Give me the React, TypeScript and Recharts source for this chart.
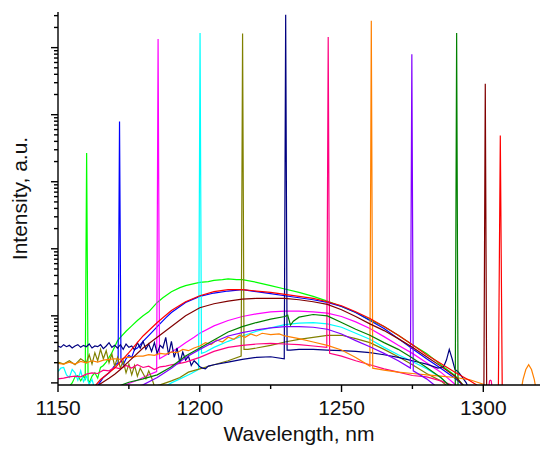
import React from 'react'
import { LineChart, Line, XAxis, YAxis } from 'recharts'

// each spectrum: [wavelength nm, log10 intensity a.u.]
const lime: [number, number][] = [[1150,-0.2],[1153,-0.1],[1155,0.0],[1156,0.09],[1157,0.11],[1158,0.03],[1159,0.1],[1159.6,0.06],[1160.1,3.43],[1160.6,0.05],[1161,0.0],[1162,0.1],[1163,0.15],[1164,0.07],[1165,0.23],[1166,0.26],[1167,0.31],[1168,0.38],[1169,0.45],[1170,0.54],[1171,0.63],[1172,0.68],[1174,0.77],[1176,0.85],[1178,0.93],[1180,1.0],[1182,1.06],[1185,1.2],[1187,1.27],[1190,1.36],[1193,1.42],[1195,1.45],[1198,1.48],[1200,1.5],[1203,1.51],[1205,1.53],[1208,1.54],[1210,1.55],[1213,1.54],[1215,1.54],[1220,1.5],[1225,1.45],[1230,1.4],[1235,1.35],[1240,1.29],[1245,1.22],[1250,1.14],[1255,1.05],[1260,0.94],[1265,0.84],[1270,0.71],[1275,0.57],[1280,0.44],[1285,0.27],[1290,0.11],[1293,-0.04],[1296,-0.2]]
const blue: [number, number][] = [[1160,-0.2],[1164,-0.04],[1166,0.08],[1168,0.15],[1169,0.2],[1170,0.26],[1171.2,0.3],[1171.7,3.9],[1172.2,0.34],[1173,0.27],[1174,0.36],[1175,0.41],[1176,0.38],[1177,0.5],[1178,0.52],[1180,0.62],[1183,0.75],[1185,0.84],[1188,0.97],[1190,1.05],[1193,1.14],[1195,1.2],[1200,1.29],[1205,1.34],[1210,1.37],[1215,1.39],[1220,1.36],[1225,1.33],[1230,1.3],[1235,1.27],[1240,1.24],[1245,1.2],[1250,1.14],[1255,1.05],[1260,0.93],[1265,0.81],[1270,0.66],[1275,0.51],[1280,0.36],[1285,0.22],[1290,0.07],[1293,-0.04],[1296,-0.2]]
const magenta: [number, number][] = [[1165,-0.2],[1170,-0.1],[1175,-0.01],[1178,0.04],[1180,0.08],[1182,0.12],[1184.8,0.17],[1185.3,5.13],[1185.8,0.36],[1187,0.39],[1190,0.46],[1193,0.54],[1195,0.6],[1198,0.68],[1200,0.74],[1205,0.85],[1210,0.93],[1215,0.99],[1220,1.03],[1225,1.06],[1230,1.07],[1235,1.07],[1240,1.06],[1245,1.04],[1250,0.99],[1255,0.91],[1260,0.81],[1265,0.69],[1270,0.56],[1275,0.44],[1280,0.3],[1285,0.16],[1290,-0.02],[1293,-0.2]]
const cyan: [number, number][] = [[1150,0.17],[1151,0.22],[1152,0.23],[1153,0.12],[1154,0.08],[1155,0.2],[1156,0.15],[1157,0.04],[1158,0.18],[1159,0.02],[1160,0.1],[1161,-0.02],[1162,0.05],[1163,-0.1],[1165,-0.2],[1180,-0.2],[1185,-0.12],[1188,-0.05],[1190,0.0],[1193,0.06],[1195,0.1],[1197,0.14],[1199.6,0.2],[1200.1,5.22],[1200.6,0.44],[1202,0.46],[1205,0.53],[1210,0.62],[1215,0.7],[1220,0.77],[1225,0.82],[1230,0.87],[1235,0.89],[1240,0.9],[1245,0.88],[1250,0.83],[1255,0.74],[1260,0.65],[1265,0.53],[1270,0.42],[1275,0.32],[1280,0.21],[1285,0.08],[1288,-0.04],[1291,-0.2]]
const olive: [number, number][] = [[1150,0.31],[1152,0.28],[1154,0.33],[1156,0.27],[1158,0.36],[1160,0.3],[1161,0.42],[1162,0.28],[1163,0.45],[1164,0.33],[1165,0.5],[1166,0.36],[1167,0.48],[1168,0.3],[1169,0.43],[1170,0.25],[1171,0.38],[1172,0.22],[1173,0.33],[1174,0.15],[1175,0.28],[1176,0.12],[1177,0.26],[1178,0.1],[1179,0.22],[1180,0.14],[1181,0.06],[1182,0.18],[1183,0.08],[1184,-0.05],[1186,-0.03],[1188,0.0],[1190,0.03],[1193,0.08],[1196,0.16],[1200,0.21],[1205,0.27],[1210,0.33],[1214.6,0.4],[1215.1,5.21],[1215.6,0.5],[1217,0.5],[1220,0.52],[1225,0.56],[1230,0.61],[1235,0.65],[1240,0.68],[1245,0.71],[1250,0.71],[1255,0.66],[1260,0.6],[1265,0.5],[1270,0.39],[1275,0.27],[1280,0.14],[1285,0.03],[1288,-0.07],[1291,-0.2]]
const navy: [number, number][] = [[1150,0.55],[1151,0.53],[1152,0.57],[1153,0.54],[1154,0.56],[1155,0.52],[1156,0.55],[1157,0.57],[1158,0.53],[1159,0.56],[1160,0.54],[1161,0.58],[1162,0.52],[1163,0.55],[1164,0.54],[1165,0.57],[1166,0.51],[1167,0.55],[1168,0.6],[1169,0.53],[1170,0.56],[1171,0.52],[1172,0.57],[1173,0.5],[1174,0.58],[1175,0.53],[1176,0.55],[1177,0.49],[1178,0.6],[1179,0.52],[1180,0.62],[1181,0.5],[1182,0.58],[1183,0.47],[1184,0.6],[1185,0.44],[1186,0.56],[1187,0.52],[1188,0.68],[1189,0.42],[1190,0.62],[1191,0.38],[1192,0.52],[1193,0.3],[1194,0.46],[1195,0.34],[1196,0.4],[1197,0.26],[1198,0.33],[1199,0.29],[1200,0.24],[1201,0.22],[1202,0.21],[1203,0.25],[1205,0.27],[1210,0.31],[1215,0.35],[1220,0.38],[1225,0.39],[1229.8,0.36],[1230.3,5.49],[1230.8,0.49],[1232,0.49],[1235,0.5],[1240,0.5],[1245,0.49],[1250,0.48],[1255,0.47],[1260,0.45],[1265,0.42],[1270,0.38],[1275,0.33],[1280,0.28],[1284,0.22],[1286,0.24],[1287,0.34],[1288,0.5],[1289,0.36],[1290,0.2],[1291,0.17],[1292,0.12],[1294,0.0],[1296,-0.2]]
const pink: [number, number][] = [[1150,0.06],[1152,0.07],[1154,0.09],[1156,0.1],[1158,0.09],[1160,0.13],[1162,0.15],[1164,0.14],[1166,0.19],[1168,0.18],[1170,0.23],[1172,0.21],[1174,0.26],[1176,0.22],[1178,0.27],[1180,0.23],[1182,0.25],[1184,0.2],[1186,0.24],[1188,0.25],[1190,0.27],[1193,0.29],[1195,0.31],[1200,0.38],[1205,0.47],[1210,0.53],[1215,0.56],[1220,0.58],[1225,0.59],[1230,0.58],[1235,0.57],[1240,0.55],[1244.8,0.53],[1245.3,5.16],[1245.8,0.44],[1250,0.4],[1255,0.33],[1260,0.27],[1265,0.21],[1270,0.16],[1275,0.11],[1280,0.09],[1285,0.03],[1290,-0.05],[1293,-0.2],[1301.5,-0.2],[1302.2,0.03],[1302.5,0.04],[1302.8,0.03],[1303.5,-0.2]]
const orange: [number, number][] = [[1150,0.29],[1152,0.28],[1154,0.31],[1156,0.28],[1158,0.32],[1160,0.3],[1162,0.33],[1164,0.31],[1166,0.34],[1168,0.35],[1170,0.36],[1172,0.35],[1174,0.38],[1176,0.38],[1178,0.4],[1180,0.4],[1182,0.42],[1184,0.41],[1186,0.44],[1188,0.43],[1190,0.46],[1192,0.45],[1194,0.5],[1196,0.48],[1198,0.52],[1200,0.55],[1202,0.6],[1204,0.57],[1206,0.64],[1208,0.61],[1210,0.68],[1212,0.65],[1214,0.71],[1216,0.68],[1218,0.73],[1220,0.7],[1222,0.74],[1225,0.72],[1228,0.73],[1230,0.7],[1235,0.66],[1240,0.61],[1245,0.56],[1250,0.49],[1255,0.38],[1260,0.25],[1260.5,5.4],[1261,0.22],[1265,0.19],[1270,0.16],[1275,0.14],[1280,0.12],[1285,0.1],[1290,0.08],[1295,0.05],[1300,-0.02],[1303,-0.2],[1313,-0.2],[1314,0.05],[1315,0.2],[1316,0.27],[1317,0.2],[1318,0.05],[1319,-0.2],[1320,-0.2]]
const violet: [number, number][] = [[1172,-0.2],[1175,-0.1],[1180,-0.03],[1185,0.08],[1190,0.22],[1195,0.38],[1200,0.5],[1205,0.61],[1210,0.7],[1215,0.75],[1220,0.79],[1225,0.82],[1230,0.84],[1235,0.84],[1240,0.83],[1245,0.8],[1250,0.73],[1255,0.63],[1260,0.54],[1265,0.44],[1270,0.33],[1274.3,0.22],[1274.8,4.9],[1275.3,0.18],[1280,0.06],[1283,-0.04],[1286,-0.2]]
const green: [number, number][] = [[1165,-0.2],[1170,-0.07],[1175,0.01],[1180,0.06],[1185,0.12],[1190,0.24],[1195,0.4],[1200,0.52],[1205,0.64],[1210,0.76],[1215,0.84],[1220,0.9],[1225,0.95],[1230,0.99],[1231,1.01],[1232,0.86],[1233,0.92],[1235,0.98],[1240,1.02],[1245,1.0],[1250,0.9],[1255,0.8],[1260,0.71],[1265,0.6],[1270,0.5],[1275,0.37],[1280,0.23],[1285,0.08],[1288,-0.04],[1290.1,-0.2],[1290.6,5.22],[1291.1,-0.2],[1295,-0.2]]
const maroon: [number, number][] = [[1160,-0.2],[1164,-0.04],[1168,0.07],[1170,0.13],[1172,0.2],[1175,0.32],[1180,0.52],[1185,0.68],[1190,0.84],[1195,1.0],[1200,1.12],[1205,1.18],[1210,1.22],[1215,1.25],[1220,1.26],[1225,1.26],[1230,1.26],[1235,1.24],[1240,1.21],[1245,1.17],[1250,1.09],[1255,0.99],[1260,0.88],[1265,0.78],[1270,0.66],[1275,0.53],[1280,0.39],[1285,0.25],[1290,0.1],[1293,-0.04],[1296,-0.2],[1300.2,-0.2],[1300.7,4.46],[1301.2,-0.2],[1310,-0.2]]
const red: [number, number][] = [[1160,-0.2],[1163,-0.05],[1165,0.05],[1170,0.22],[1175,0.45],[1180,0.7],[1185,0.9],[1190,1.08],[1195,1.21],[1200,1.3],[1205,1.36],[1210,1.39],[1215,1.39],[1220,1.37],[1225,1.35],[1230,1.32],[1235,1.29],[1240,1.26],[1245,1.21],[1250,1.15],[1255,1.06],[1260,0.96],[1265,0.84],[1270,0.71],[1275,0.57],[1280,0.42],[1285,0.29],[1290,0.16],[1295,0.04],[1298,-0.04],[1301,-0.2],[1305.3,-0.2],[1306,3.69],[1306.7,-0.2],[1310,-0.2]]

const xTicks = [1150, 1175, 1200, 1225, 1250, 1275, 1300]
const yTicks: number[] = []
for (let n = 0; n <= 5; n++) for (let k = 1; k <= 9; k++) if (k * 10 ** n <= 340000) yTicks.push(k * 10 ** n)

const series = [
  { key: 'lime', pts: lime, color: '#00ff00' },
  { key: 'blue', pts: blue, color: '#0000ff' },
  { key: 'magenta', pts: magenta, color: '#ff00ff' },
  { key: 'cyan', pts: cyan, color: '#00ffff' },
  { key: 'olive', pts: olive, color: '#808000' },
  { key: 'navy', pts: navy, color: '#000080' },
  { key: 'pink', pts: pink, color: '#ff0080' },
  { key: 'orange', pts: orange, color: '#ff8000' },
  { key: 'violet', pts: violet, color: '#8000ff' },
  { key: 'green', pts: green, color: '#008000' },
  { key: 'maroon', pts: maroon, color: '#800000' },
  { key: 'red', pts: red, color: '#ff0000' },
]

const font = '"Liberation Sans", Arial, sans-serif'

const XTick = (props: any) => {
  const { x, y, payload } = props
  const major = payload.value % 50 === 0
  return (
    <g>
      <line x1={x} x2={x} y1={y} y2={y + (major ? 7 : 4)} stroke="#000" strokeWidth={1.4} />
      {major && (
        <text x={x} y={y + 30} textAnchor="middle" fontSize={21} fontFamily={font} fill="#111">
          {payload.value}
        </text>
      )}
    </g>
  )
}

const YTick = (props: any) => {
  const { x, y, payload } = props
  const major = Math.abs(Math.log10(payload.value) % 1) < 1e-6
  return <line x1={x - (major ? 7 : 4)} x2={x} y1={y} y2={y} stroke="#000" strokeWidth={1.4} />
}

const XLabel = (props: any) => {
  const vb = props.viewBox
  return (
    <text x={vb.x + vb.width / 2} y={vb.y + 56} textAnchor="middle" fontSize={21} fontFamily={font} fill="#111">
      Wavelength, nm
    </text>
  )
}

const YLabel = (props: any) => {
  const vb = props.viewBox
  const cx = 19
  const cy = vb.y + vb.height / 2
  return (
    <text x={cx} y={cy} textAnchor="middle" dominantBaseline="central" fontSize={21} fontFamily={font} fill="#111" transform={`rotate(-90 ${cx} ${cy})`}>
      Intensity, a.u.
    </text>
  )
}

export default function App() {
  return (
    <div style={{ position: 'absolute', left: 0, top: 0, background: '#fff' }}>
      <LineChart width={540} height={449} margin={{ top: 12, right: 0, bottom: 0, left: 0 }}>
        <XAxis
          type="number"
          dataKey="x"
          domain={[1150, 1320]}
          ticks={xTicks}
          interval={0}
          allowDataOverflow
          tickSize={0}
          tickMargin={0}
          tickLine={false}
          tick={<XTick />}
          height={64}
          axisLine={{ stroke: '#000', strokeWidth: 1.4 }}
          label={XLabel}
        />
        <YAxis
          type="number"
          dataKey="y"
          scale="log"
          domain={[0.93, 340000]}
          ticks={yTicks}
          interval={0}
          allowDataOverflow
          tickSize={0}
          tickMargin={0}
          tickLine={false}
          tick={<YTick />}
          width={58}
          axisLine={{ stroke: '#000', strokeWidth: 1.4 }}
          label={YLabel}
        />
        {series.map((s) => (
          <Line
            key={s.key}
            data={s.pts.map(([x, e]) => ({ x, y: 10 ** e }))}
            dataKey="y"
            stroke={s.color}
            strokeWidth={1.2}
            dot={false}
            type="linear"
            isAnimationActive={false}
          />
        ))}
      </LineChart>
    </div>
  )
}
